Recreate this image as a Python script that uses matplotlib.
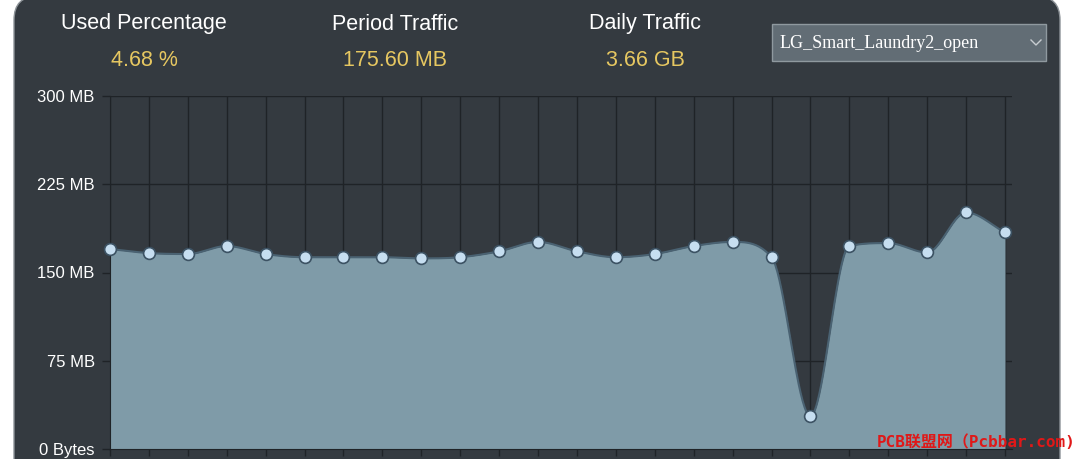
import numpy as np
import matplotlib
matplotlib.use('Agg')
import matplotlib.pyplot as plt
from matplotlib.patches import FancyBboxPatch, Rectangle

# hourly traffic in MB (24 points)
hours = list(range(24))
traffic_mb = [170, 166.5, 165.7, 172.5, 165.7, 163, 163, 163, 162, 163, 168, 176,
              168, 163, 165.7, 172.5, 176, 163, 28, 172.5, 175, 167, 201, 184]
y_ticks = [0, 75, 150, 225, 300]
y_labels = ['0 Bytes', '75 MB', '150 MB', '225 MB', '300 MB']

stat_titles = ['Used Percentage', 'Period Traffic', 'Daily Traffic']
stat_values = ['4.68 %', '175.60 MB', '3.66 GB']
device = 'LG_Smart_Laundry2_open'

PANEL = '#343a40'
GRID = '#1f2327'
FILL = '#7f9ba8'
LINE = '#4a6272'
DOT = '#c6def0'
GOLD = '#e6c761'


def monotone(x, y, n=40):
    # Fritsch-Carlson monotone cubic, like chart.js 'monotone' mode
    x = np.asarray(x, float)
    y = np.asarray(y, float)
    h = np.diff(x)
    d = np.diff(y) / h
    m = np.zeros_like(y)
    m[0], m[-1] = d[0], d[-1]
    for i in range(1, len(y) - 1):
        if d[i - 1] * d[i] <= 0:
            m[i] = 0
        else:
            m[i] = (d[i - 1] + d[i]) / 2
    for i in range(len(d)):
        if d[i] == 0:
            m[i] = m[i + 1] = 0
            continue
        a, b = m[i] / d[i], m[i + 1] / d[i]
        s = a * a + b * b
        if s > 9:
            t = 3 / np.sqrt(s)
            m[i], m[i + 1] = t * a * d[i], t * b * d[i]
    xs, ys = [], []
    for i in range(len(d)):
        t = np.linspace(0, 1, n, endpoint=False)
        h00 = 2 * t**3 - 3 * t**2 + 1
        h10 = t**3 - 2 * t**2 + t
        h01 = -2 * t**3 + 3 * t**2
        h11 = t**3 - t**2
        xs.append(x[i] + t * h[i])
        ys.append(h00 * y[i] + h10 * h[i] * m[i] + h01 * y[i + 1] + h11 * h[i] * m[i + 1])
    xs.append([x[-1]])
    ys.append([y[-1]])
    return np.concatenate(xs), np.concatenate(ys)


W, H = 1080, 459
fig = plt.figure(figsize=(W / 100, H / 100), dpi=100)
fig.patch.set_facecolor('white')

bg = fig.add_axes([0, 0, 1, 1])
bg.set_xlim(0, W)
bg.set_ylim(H, 0)
bg.axis('off')
bg.add_patch(FancyBboxPatch((14, -4), 1046, 500, boxstyle='round,pad=0,rounding_size=24',
                            facecolor=PANEL, edgecolor='#8d9398', lw=1))

sans = 'Liberation Sans'
for cx, t, v in zip([144, 395, 645], stat_titles, stat_values):
    bg.text(cx, 24, t, color='white', fontsize=15.5, family=sans, ha='center', va='center')
    bg.text(cx, 60, v, color=GOLD, fontsize=15.5, family=sans, ha='center', va='center')

bg.add_patch(Rectangle((772, 24), 274, 37, facecolor='#626d75', edgecolor='#8f999f', lw=1))
bg.text(780, 43, device, color='white', fontsize=13, family='Liberation Serif', ha='left', va='center')
bg.plot([1031, 1036, 1041], [40, 45, 40], color='#c8cdd1', lw=1)

# plot area: x 110..1012 px, y 96..449 px
ax = fig.add_axes([110 / W, (H - 449) / H, (1012 - 110) / W, 353 / H])
ax.patch.set_alpha(0)
ax.set_xlim(0, 23 + 7 / 39)
ax.set_ylim(0, 300)

for h in hours:
    ax.axvline(h, color=GRID, lw=1, zorder=0)
for v in y_ticks:
    ax.axhline(v, color=GRID, lw=1, zorder=0)

sx, sy = monotone(hours, traffic_mb)
ax.fill_between(sx, 0, sy, color=FILL, lw=0, zorder=2)
ax.plot(sx, sy, color=LINE, lw=1.5, zorder=3)
ax.scatter(hours, traffic_mb, s=72, facecolor=DOT, edgecolor='#3c5263', lw=1.2, zorder=4,
           clip_on=False)

ax.set_xticks(hours)
ax.set_xticklabels([])
ax.set_yticks(y_ticks)
ax.set_yticklabels(y_labels, color='white', fontsize=12, family=sans)
ax.tick_params(axis='y', length=6, width=1, color=GRID, pad=5)
ax.tick_params(axis='x', length=5, width=1, color=GRID)
for s in ['top', 'right']:
    ax.spines[s].set_visible(False)
for s in ['left', 'bottom']:
    ax.spines[s].set_color(GRID)

# watermark on top of everything
fig.text(1076 / W, 1 - 442 / H, 'PCB联盟网（Pcbbar.com)', color='#e01818', fontsize=11.5,
         ha='right', va='center', family=['DejaVu Sans Mono', 'Noto Sans CJK SC'],
         fontweight='bold', zorder=10)

fig.savefig('out.png', dpi=100)
